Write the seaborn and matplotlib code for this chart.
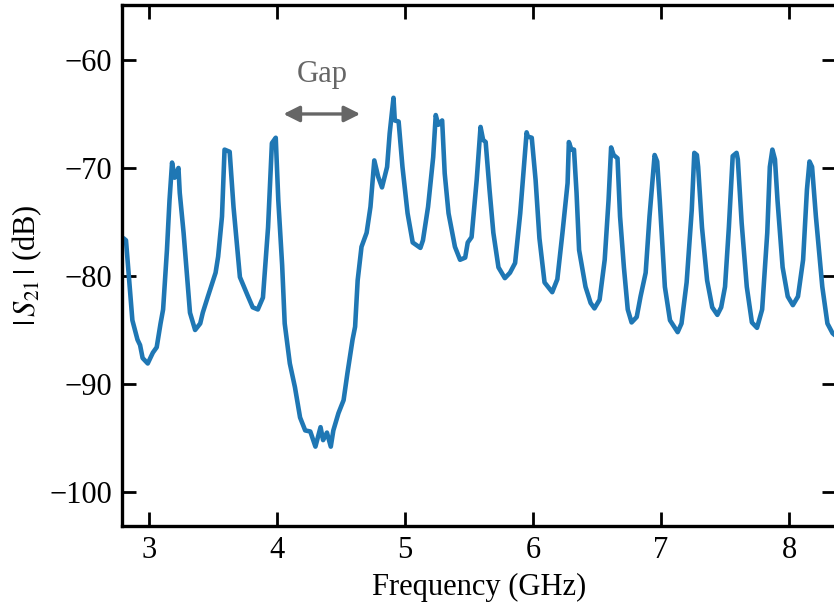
import matplotlib
matplotlib.use("Agg")
import matplotlib.pyplot as plt
import seaborn as sns
import pandas as pd

# frequenza (GHz) e |S21| (dB)
freq = [2.80, 2.82, 2.87, 2.91, 2.93, 2.95, 2.99, 3.03, 3.06, 3.09, 3.11, 3.14, 3.16, 3.18,
        3.20, 3.23, 3.24, 3.27, 3.30, 3.32, 3.36, 3.40, 3.42, 3.46, 3.52, 3.54, 3.57, 3.59,
        3.63, 3.66, 3.71, 3.77, 3.81, 3.85, 3.89, 3.93, 3.96, 3.99, 4.01, 4.04, 4.06, 4.10,
        4.14, 4.18, 4.22, 4.26, 4.30, 4.34, 4.36, 4.39, 4.42, 4.44, 4.48, 4.52, 4.55, 4.59,
        4.61, 4.63, 4.66, 4.70, 4.73, 4.76, 4.79, 4.82, 4.86, 4.88, 4.91, 4.92, 4.95, 4.98,
        5.02, 5.06, 5.12, 5.14, 5.18, 5.22, 5.24, 5.26, 5.29, 5.31, 5.34, 5.39, 5.43, 5.47,
        5.49, 5.52, 5.56, 5.59, 5.61, 5.63, 5.66, 5.69, 5.73, 5.78, 5.82, 5.86, 5.90, 5.95,
        5.96, 5.99, 6.02, 6.05, 6.09, 6.15, 6.19, 6.23, 6.27, 6.28, 6.30, 6.32, 6.34, 6.36,
        6.41, 6.45, 6.48, 6.52, 6.56, 6.59, 6.61, 6.63, 6.66, 6.68, 6.71, 6.74, 6.77, 6.81,
        6.84, 6.88, 6.91, 6.95, 6.97, 6.99, 7.03, 7.07, 7.13, 7.16, 7.20, 7.24, 7.26, 7.28,
        7.29, 7.32, 7.36, 7.40, 7.44, 7.47, 7.50, 7.53, 7.56, 7.59, 7.60, 7.63, 7.67, 7.71,
        7.75, 7.79, 7.83, 7.85, 7.87, 7.89, 7.91, 7.95, 7.99, 8.03, 8.07, 8.11, 8.14, 8.16,
        8.18, 8.21, 8.26, 8.30, 8.34, 8.37]
s21 = [-76.5, -76.7, -84.1, -85.9, -86.4, -87.6, -88.1, -87.1, -86.6, -84.4, -83.1, -77.6, -73.0, -69.5,
       -70.9, -70.0, -72.3, -76.0, -80.4, -83.4, -85.0, -84.4, -83.4, -81.9, -79.7, -78.2, -74.5, -68.3,
       -68.5, -73.6, -80.1, -81.8, -82.9, -83.1, -82.0, -75.5, -67.7, -67.2, -73.0, -79.0, -84.4, -88.1,
       -90.3, -93.1, -94.3, -94.4, -95.8, -94.0, -95.2, -94.5, -95.8, -94.3, -92.7, -91.5, -89.0, -85.9,
       -84.7, -80.4, -77.3, -76.0, -73.6, -69.3, -70.8, -71.8, -69.9, -66.8, -63.5, -65.6, -65.7, -69.9,
       -74.2, -76.9, -77.4, -76.7, -73.6, -69.0, -65.1, -66.0, -65.6, -70.5, -74.2, -77.3, -78.5, -78.3,
       -76.9, -76.4, -71.1, -66.2, -67.4, -67.6, -72.0, -76.0, -79.2, -80.2, -79.7, -78.8, -74.2, -66.7,
       -67.1, -67.2, -71.1, -76.5, -80.6, -81.5, -80.3, -76.0, -71.4, -67.6, -68.3, -68.3, -72.3, -77.6,
       -81.0, -82.5, -83.0, -82.2, -78.5, -73.0, -68.1, -68.8, -69.1, -74.5, -79.2, -83.1, -84.3, -83.8,
       -81.9, -79.7, -74.5, -68.8, -69.4, -73.0, -81.0, -84.1, -85.2, -84.4, -80.6, -73.9, -68.6, -68.8,
       -69.9, -75.5, -80.4, -82.9, -83.6, -82.9, -81.0, -75.5, -68.9, -68.6, -69.2, -75.1, -81.0, -84.3,
       -84.8, -83.1, -76.0, -69.9, -68.3, -69.2, -73.0, -79.2, -81.9, -82.7, -81.9, -78.5, -72.0, -69.4,
       -69.9, -74.5, -81.0, -84.4, -85.3, -85.6]

# estremi del gap
gap_start = 4.05
gap_end = 4.65
gap_level = -65.0

xticks = [3, 4, 5, 6, 7, 8]
yticks = [-60, -70, -80, -90, -100]

sns.set_style("ticks")
plt.rcParams['font.family'] = ['Liberation Serif', 'DejaVu Serif']
plt.rcParams['mathtext.fontset'] = 'stix'
plt.rcParams['text.color'] = 'black'
plt.rcParams['axes.labelcolor'] = 'black'
plt.rcParams['xtick.color'] = 'black'
plt.rcParams['ytick.color'] = 'black'
plt.rcParams['axes.edgecolor'] = 'black'

df = pd.DataFrame({'freq': freq, 's21': s21})

fig = plt.figure(figsize=(8.34, 6.10), dpi=100)
ax = fig.add_axes([0.1463, 0.1377, 0.8561, 0.8541])

sns.lineplot(data=df, x='freq', y='s21', estimator=None, sort=False,
             color='#1f77b4', linewidth=3.3, ax=ax)

# freccia del gap
ax.annotate('', xy=(gap_start, gap_level), xytext=(gap_end, gap_level),
            arrowprops=dict(arrowstyle='<|-|>', color='#666666', lw=2.4, mutation_scale=24,
                            shrinkA=0, shrinkB=0))
ax.text((gap_start + gap_end) / 2, gap_level + 3.0, 'Gap', color='#666666',
        fontsize=22, ha='center', va='baseline')

ax.set_xlim(2.789, 8.367)
ax.set_ylim(-103.15, -54.91)
ax.set_xticks(xticks)
ax.set_yticks(yticks)
ax.set_yticklabels(['\u221260', '\u221270', '\u221280', '\u221290', '\u2212100'])

ax.tick_params(direction='in', length=10, width=2.0, labelsize=22,
               top=True, right=True, pad=7)
for sp in ax.spines.values():
    sp.set_linewidth(2.4)
    sp.set_visible(True)

ax.set_xlabel('Frequency (GHz)', fontsize=22, labelpad=6)
ax.set_ylabel(r'$|\,S_{21}\,|$ (dB)', fontsize=22, labelpad=4)

fig.savefig('out.png', dpi=100)
